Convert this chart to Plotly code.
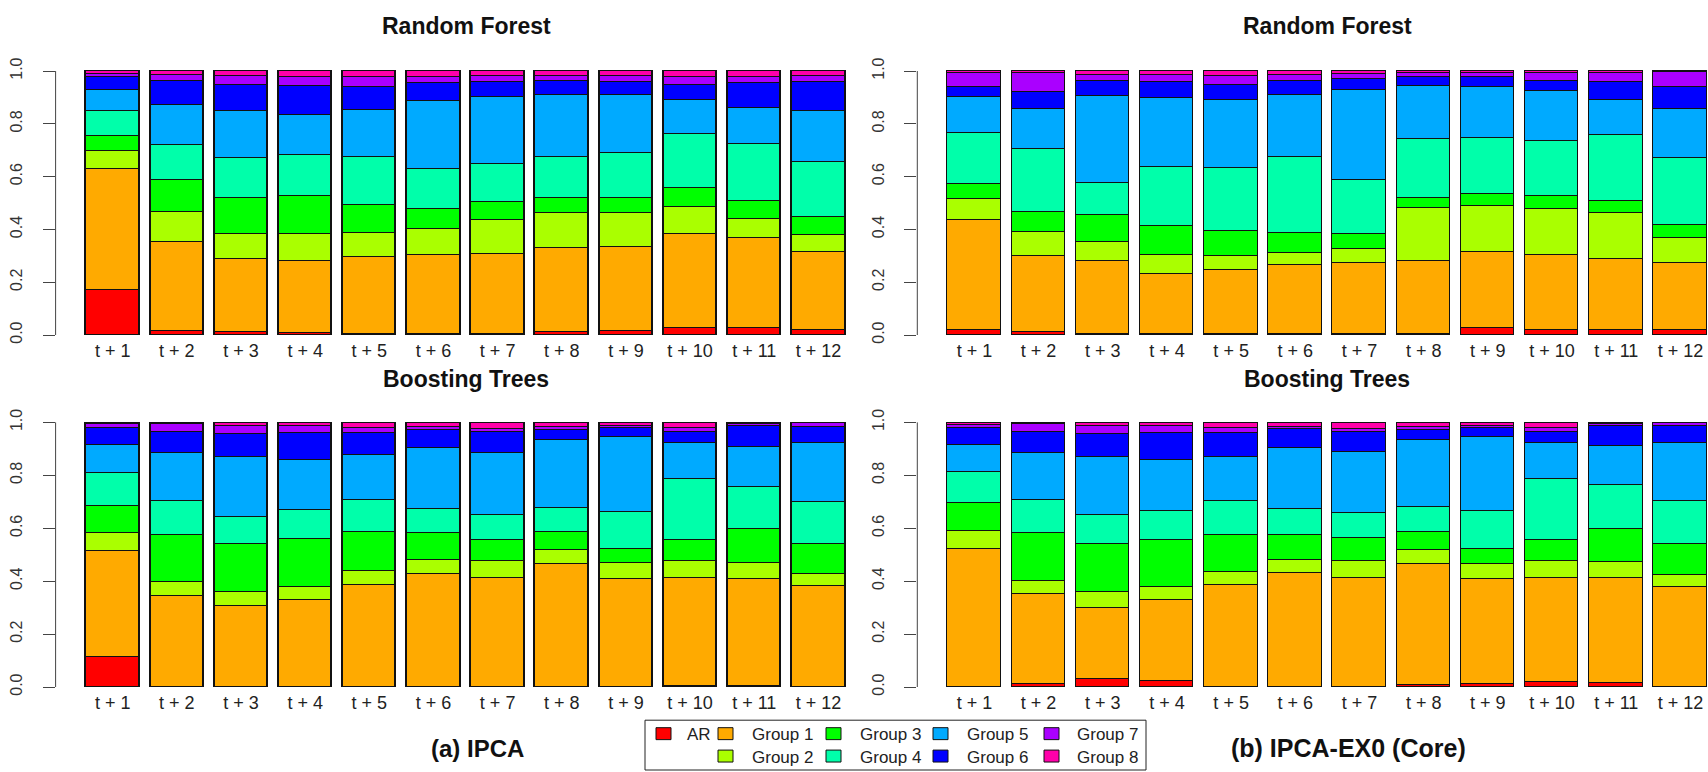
import plotly.graph_objects as go

W, H = 1708, 772

# ---------------- data ----------------
horizons = ["t + 1", "t + 2", "t + 3", "t + 4", "t + 5", "t + 6",
            "t + 7", "t + 8", "t + 9", "t + 10", "t + 11", "t + 12"]
groups = ["AR", "Group 1", "Group 2", "Group 3", "Group 4",
          "Group 5", "Group 6", "Group 7", "Group 8"]
colors = ["#FF0000", "#FFAA00", "#AAFF00", "#00FF00", "#00FFAA",
          "#00AAFF", "#0000FF", "#AA00FF", "#FF00AA"]

# (a) IPCA - Random Forest
ipca_rf_ar = [.170, .013, .008, .004, .003, .003, .003, .008, .013, .023, .023, .018]
ipca_rf_g1 = [.458, .338, .280, .275, .289, .299, .303, .320, .319, .356, .342, .293]
ipca_rf_g2 = [.069, .114, .091, .100, .092, .099, .127, .134, .130, .104, .074, .065]
ipca_rf_g3 = [.054, .119, .139, .144, .108, .073, .069, .057, .054, .072, .067, .068]
ipca_rf_g4 = [.094, .135, .150, .159, .181, .154, .145, .154, .172, .205, .217, .211]
ipca_rf_g5 = [.082, .149, .177, .151, .176, .258, .254, .236, .218, .127, .136, .192]
ipca_rf_g6 = [.050, .092, .101, .108, .088, .065, .055, .051, .050, .059, .092, .109]
ipca_rf_g7 = [.011, .024, .035, .033, .038, .026, .023, .021, .025, .028, .026, .025]
ipca_rf_g8 = [.012, .016, .019, .026, .025, .023, .021, .019, .019, .026, .023, .019]

# (b) IPCA-EX0 (Core) - Random Forest
ex0_rf_ar = [.018, .008, .003, .003, .003, .003, .003, .003, .025, .018, .018, .018]
ex0_rf_g1 = [.416, .290, .276, .227, .240, .259, .267, .276, .286, .284, .270, .252]
ex0_rf_g2 = [.078, .089, .072, .072, .055, .045, .055, .200, .177, .172, .174, .095]
ex0_rf_g3 = [.058, .077, .101, .109, .094, .077, .054, .040, .044, .049, .044, .050]
ex0_rf_g4 = [.195, .237, .122, .222, .237, .289, .205, .223, .214, .210, .251, .254]
ex0_rf_g5 = [.136, .154, .330, .264, .258, .236, .343, .199, .191, .189, .130, .186]
ex0_rf_g6 = [.037, .063, .056, .059, .059, .051, .042, .033, .037, .038, .069, .082]
ex0_rf_g7 = [.053, .073, .024, .028, .035, .024, .018, .017, .017, .031, .035, .057]
ex0_rf_g8 = [.009, .009, .016, .016, .019, .016, .013, .009, .009, .009, .009, .006]

# (a) IPCA - Boosting Trees
ipca_bt_ar = [.115, .002, .001, .001, .001, .001, .001, .001, .001, .003, .003, .001]
ipca_bt_g1 = [.398, .344, .304, .328, .387, .428, .413, .463, .409, .411, .406, .380]
ipca_bt_g2 = [.068, .050, .055, .049, .052, .053, .063, .054, .058, .063, .059, .046]
ipca_bt_g3 = [.104, .180, .181, .183, .146, .100, .078, .069, .055, .079, .128, .114]
ipca_bt_g4 = [.124, .129, .104, .108, .122, .091, .095, .091, .141, .229, .162, .159]
ipca_bt_g5 = [.107, .180, .226, .189, .168, .230, .235, .257, .281, .136, .149, .221]
ipca_bt_g6 = [.063, .081, .086, .103, .085, .069, .079, .036, .034, .045, .082, .064]
ipca_bt_g7 = [.015, .028, .030, .026, .019, .012, .012, .013, .008, .013, .005, .015]
ipca_bt_g8 = [.006, .006, .013, .013, .020, .016, .024, .016, .013, .021, .006, .000]

# (b) IPCA-EX0 (Core) - Boosting Trees
ex0_bt_ar = [.000, .013, .031, .023, .002, .002, .002, .009, .013, .021, .015, .000]
ex0_bt_g1 = [.522, .338, .270, .306, .386, .430, .412, .455, .396, .393, .399, .378]
ex0_bt_g2 = [.069, .049, .059, .049, .049, .050, .063, .054, .055, .063, .059, .045]
ex0_bt_g3 = [.104, .181, .181, .178, .140, .095, .088, .069, .059, .081, .123, .118]
ex0_bt_g4 = [.118, .127, .109, .109, .128, .096, .094, .094, .144, .227, .167, .164]
ex0_bt_g5 = [.103, .177, .221, .193, .166, .230, .229, .254, .278, .136, .149, .216]
ex0_bt_g6 = [.063, .081, .086, .103, .090, .073, .078, .036, .034, .045, .077, .068]
ex0_bt_g7 = [.012, .028, .030, .026, .019, .009, .010, .013, .008, .013, .005, .011]
ex0_bt_g8 = [.009, .006, .013, .013, .020, .015, .024, .016, .013, .021, .006, .000]

y_ticks = [0.0, 0.2, 0.4, 0.6, 0.8, 1.0]
y_ticktext = ["0.0", "0.2", "0.4", "0.6", "0.8", "1.0"]

panels = [
    ("x", "y", [ipca_rf_ar, ipca_rf_g1, ipca_rf_g2, ipca_rf_g3, ipca_rf_g4,
                ipca_rf_g5, ipca_rf_g6, ipca_rf_g7, ipca_rf_g8]),
    ("x2", "y2", [ex0_rf_ar, ex0_rf_g1, ex0_rf_g2, ex0_rf_g3, ex0_rf_g4,
                  ex0_rf_g5, ex0_rf_g6, ex0_rf_g7, ex0_rf_g8]),
    ("x3", "y3", [ipca_bt_ar, ipca_bt_g1, ipca_bt_g2, ipca_bt_g3, ipca_bt_g4,
                  ipca_bt_g5, ipca_bt_g6, ipca_bt_g7, ipca_bt_g8]),
    ("x4", "y4", [ex0_bt_ar, ex0_bt_g1, ex0_bt_g2, ex0_bt_g3, ex0_bt_g4,
                  ex0_bt_g5, ex0_bt_g6, ex0_bt_g7, ex0_bt_g8]),
]

# R barplot geometry: width 1, space 0.2
centers = [0.7 + 1.2 * i for i in range(len(horizons))]

FONT = "Liberation Sans, Arial, sans-serif"

fig = go.Figure()
for xa, ya, series in panels:
    for name, col, vals in zip(groups, colors, series):
        fig.add_trace(go.Bar(
            x=centers, y=vals, width=1.0, name=name, xaxis=xa, yaxis=ya,
            marker=dict(color=col, line=dict(color="#111111", width=1.2)),
            showlegend=False,
        ))

def fx(p):
    return p / W

def fy(p):
    return 1 - p / H

xl = [fx(55.6), fx(875.5)]
xr = [fx(917.3), 1.0]
yt = [fy(343.9), fy(57.7)]
yb = [fy(697.3), fy(410.4)]

def xaxis(dom, rng, anchor):
    return dict(domain=dom, range=rng, anchor=anchor, tickmode="array",
                tickvals=centers, ticktext=horizons, ticks="",
                ticklabelstandoff=-8,
                showline=False, showgrid=False, zeroline=False,
                tickfont=dict(family=FONT, size=18, color="#222222"))

def yaxis(dom, anchor):
    return dict(domain=dom, range=[-0.04, 1.04], anchor=anchor,
                tickmode="array", tickvals=y_ticks, ticktext=y_ticktext,
                ticks="outside", ticklen=12, tickwidth=1, tickcolor="#444444",
                ticklabelstandoff=14,
                tickangle=-90, showline=False, showgrid=False, zeroline=False,
                tickfont=dict(family=FONT, size=16, color="#333333"))

fig.update_layout(
    width=W, height=H, margin=dict(l=0, r=0, t=0, b=0),
    paper_bgcolor="white", plot_bgcolor="white",
    barmode="stack", bargap=0, showlegend=False,
    xaxis=xaxis(xl, [-0.368, 14.968], "y"),
    yaxis=yaxis(yt, "x"),
    xaxis2=xaxis(xr, [-0.368, 14.416], "y2"),
    yaxis2=yaxis(yt, "x2"),
    xaxis3=xaxis(xl, [-0.368, 14.968], "y3"),
    yaxis3=yaxis(yb, "x3"),
    xaxis4=xaxis(xr, [-0.368, 14.416], "y4"),
    yaxis4=yaxis(yb, "x4"),
)

shapes = []
for xa in ["x", "x2", "x3", "x4"]:
    ya = xa.replace("x", "y")
    shapes.append(dict(type="line", xref=xa + " domain", yref=ya,
                       x0=0, x1=0, y0=0, y1=1,
                       line=dict(color="#444444", width=1)))

annotations = []
def title(text, xc, yc, size):
    annotations.append(dict(text="<b>" + text + "</b>", x=fx(xc), y=fy(yc),
                            xref="paper", yref="paper", xanchor="center",
                            yanchor="middle", showarrow=False,
                            font=dict(family=FONT, size=size, color="#111111")))

title("Random Forest", 466, 23, 23)
title("Random Forest", 1327, 23, 23)
title("Boosting Trees", 466, 377, 23)
title("Boosting Trees", 1327, 377, 23)
title("(a) IPCA", 478, 748, 24)
title("(b) IPCA-EX0 (Core)", 1348, 748, 25)

# legend (R style box, two rows)
shapes.append(dict(type="rect", xref="paper", yref="paper",
                   x0=fx(645), x1=fx(1146), y0=fy(770), y1=fy(720),
                   line=dict(color="#222222", width=1), fillcolor="white"))
leg_cols = [(656, 686, 0, None),     # AR square, label right-aligned at 713
            (718, 750, 1, 2), (826, 858, 3, 4), (933, 965, 5, 6), (1044, 1075, 7, 8)]
row_y = [733.5, 756]
for i, (sx, tx, top, bot) in enumerate(leg_cols):
    for r, gi in enumerate([top, bot]):
        if gi is None:
            continue
        cy = row_y[r]
        shapes.append(dict(type="rect", xref="paper", yref="paper",
                           x0=fx(sx), x1=fx(sx + 15), y0=fy(cy + 6), y1=fy(cy - 6),
                           line=dict(color="#111111", width=1), fillcolor=colors[gi]))
        if gi == 0:
            annotations.append(dict(text=groups[gi], x=fx(713), y=fy(cy + 1),
                                    xref="paper", yref="paper", xanchor="right",
                                    yanchor="middle", showarrow=False,
                                    font=dict(family=FONT, size=17, color="#222222")))
        else:
            annotations.append(dict(text=groups[gi], x=fx(tx), y=fy(cy + 1),
                                    xref="paper", yref="paper", xanchor="left",
                                    yanchor="middle", showarrow=False,
                                    font=dict(family=FONT, size=17, color="#222222")))

fig.update_layout(shapes=shapes, annotations=annotations)
fig.write_html("out.html")
